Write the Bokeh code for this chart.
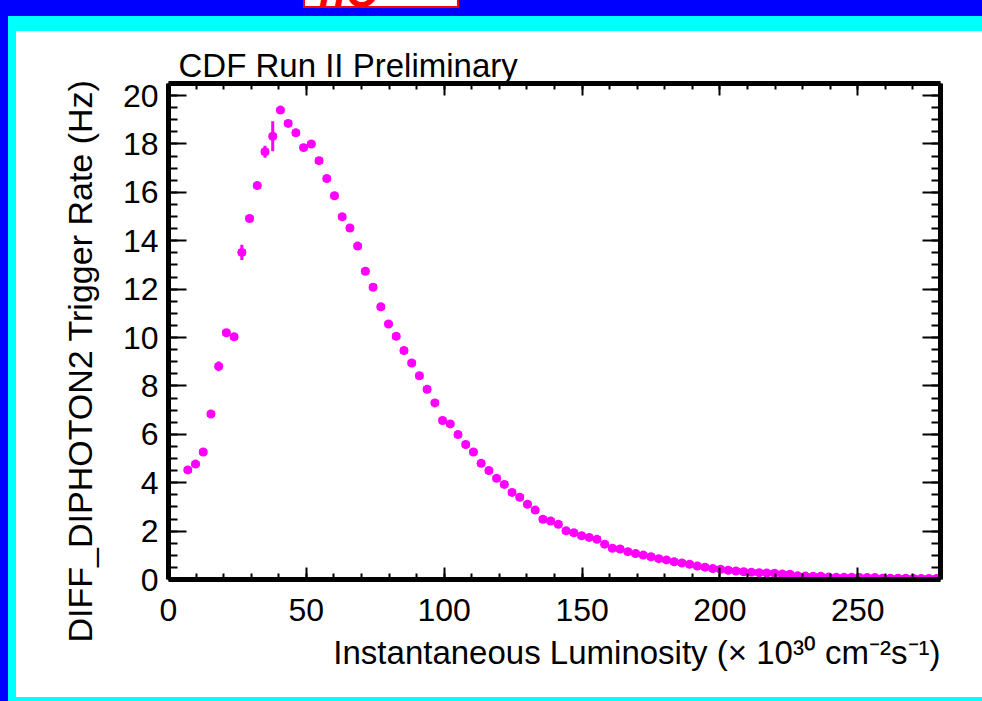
from bokeh.plotting import figure
from bokeh.models import (LinearAxis, SingleIntervalTicker, Range1d, Title, Div,
                          ColumnDataSource, CustomJSTickFormatter)
from bokeh.layouts import column, row
from bokeh.embed import file_html
from bokeh.resources import INLINE

# ---------------- data ----------------
bin_width = 2.8          # histogram bin width (x 10^30 cm^-2 s^-1)
first_bin_low = 5.6      # low edge of the first filled bin
rate = [4.53, 4.77, 5.27, 6.84, 8.81, 10.20, 10.03, 13.52, 14.92, 16.28,
        17.68, 18.32, 19.40, 18.85, 18.46, 17.85, 18.00, 17.31, 16.57, 15.86,
        14.99, 14.53, 13.78, 12.74, 12.08, 11.27, 10.56, 10.05, 9.46, 8.95,
        8.42, 7.86, 7.30, 6.57, 6.43, 5.99, 5.58, 5.27, 4.80, 4.50,
        4.18, 3.93, 3.60, 3.40, 3.11, 2.87, 2.49, 2.42, 2.28, 2.01,
        1.93, 1.81, 1.74, 1.66, 1.46, 1.29, 1.26, 1.15, 1.07, 1.01,
        0.94, 0.86, 0.81, 0.73, 0.68, 0.63, 0.56, 0.51, 0.45, 0.42,
        0.38, 0.35, 0.32, 0.30, 0.28, 0.27, 0.26, 0.23, 0.22, 0.15,
        0.14, 0.13, 0.13, 0.10, 0.09, 0.09, 0.09, 0.08, 0.08, 0.08,
        0.05, 0.05, 0.05, 0.05, 0.04, 0.04, 0.04, 0.04]
rate_err = [0.08, 0.08, 0.08, 0.10, 0.20, 0.10, 0.08, 0.32, 0.10, 0.10,
            0.25, 0.62, 0.10, 0.10, 0.10, 0.10, 0.10, 0.10, 0.10, 0.10,
            0.10, 0.10, 0.10, 0.10, 0.10, 0.10, 0.10, 0.10, 0.10, 0.10,
            0.10, 0.10, 0.10, 0.15, 0.10, 0.08, 0.08, 0.08, 0.08, 0.08,
            0.08, 0.08, 0.08, 0.08, 0.08, 0.08, 0.12, 0.08, 0.08, 0.08,
            0.06, 0.06, 0.06, 0.06, 0.06, 0.06, 0.06, 0.06, 0.06, 0.06,
            0.05, 0.05, 0.05, 0.05, 0.05, 0.05, 0.05, 0.05, 0.05, 0.05,
            0.04, 0.04, 0.04, 0.04, 0.04, 0.04, 0.04, 0.04, 0.04, 0.04,
            0.03, 0.03, 0.03, 0.03, 0.03, 0.03, 0.03, 0.03, 0.03, 0.03,
            0.02, 0.02, 0.02, 0.02, 0.02, 0.02, 0.02, 0.02]
x_range_max = 280
y_range_max = 20.5
x_tick_step = 50
y_tick_step = 2

title_text = "CDF Run II Preliminary"
x_title = "Instantaneous Luminosity (\u00d7 10\u00b3\u2070 cm\u207b\u00b2s\u207b\u00b9)"
y_title = "DIFF_DIPHOTON2 Trigger Rate (Hz)"
banner_text = "nC"

lumi = [first_bin_low + bin_width * (k + 0.5) for k in range(len(rate))]
src = ColumnDataSource(dict(
    x=lumi, y=rate,
    lo=[r - e for r, e in zip(rate, rate_err)],
    hi=[r + e for r, e in zip(rate, rate_err)],
))

# ---------------- layout ----------------
PAGE_W, PAGE_H = 982, 701
LEFT_BAND, TOP_BAND, BOTTOM_BAND = 16, 31, 4
W = PAGE_W - LEFT_BAND
H = PAGE_H - TOP_BAND - BOTTOM_BAND
BL, BR, BT, BB = 152, 42, 52, 118

FONT = "Liberation Sans"
MAG = "#ff00ff"
BLUE = "#0000ff"
CYAN = "#00ffff"

fig = figure(width=W, height=H, x_range=Range1d(0, x_range_max),
             y_range=Range1d(0, y_range_max), output_backend="svg",
             toolbar_location=None, x_axis_location=None, y_axis_location=None,
             min_border_left=BL, min_border_right=BR, min_border_top=BT,
             min_border_bottom=BB, background_fill_color="white",
             border_fill_color="white", outline_line_color=None, margin=0)
fig.xgrid.visible = False
fig.ygrid.visible = False


def make_axis(step, nminor, tin, tmin, labels, standoff=10):
    ax = LinearAxis(ticker=SingleIntervalTicker(interval=step, num_minor_ticks=nminor))
    ax.axis_line_width = 5
    ax.axis_line_color = "black"
    ax.major_tick_in = tin
    ax.major_tick_out = 0
    ax.minor_tick_in = tmin
    ax.minor_tick_out = 0
    ax.major_tick_line_width = 2
    ax.minor_tick_line_width = 2
    ax.major_label_text_font = FONT
    ax.major_label_text_font_size = "32px"
    ax.major_label_text_color = "black"
    ax.major_label_standoff = standoff
    if not labels:
        ax.formatter = CustomJSTickFormatter(code="return ''")
        ax.major_label_standoff = 0
    return ax


fig.add_layout(make_axis(x_tick_step, 5, 12, 6, True, 19), "below")
fig.add_layout(make_axis(x_tick_step, 5, 12, 6, False), "above")
fig.add_layout(make_axis(y_tick_step, 4, 18, 9, True, 10), "left")
fig.add_layout(make_axis(y_tick_step, 4, 18, 9, False), "right")

# titles (outer panels)
fig.add_layout(Title(text=title_text, align="left", offset=10, standoff=0,
                     text_font=FONT, text_font_size="33px",
                     text_font_style="normal", text_color="black"), "above")
fig.add_layout(Title(text=x_title, align="right", offset=0, standoff=20,
                     vertical_align="top",
                     text_font=FONT, text_font_size="33px",
                     text_font_style="normal", text_color="black"), "below")
fig.add_layout(Title(text=y_title, align="right", offset=-4, standoff=42,
                     text_font=FONT, text_font_size="34px",
                     text_font_style="normal", text_color="black"), "left")

# data marks
fig.segment(x0="x", y0="lo", x1="x", y1="hi", source=src, line_color=MAG, line_width=3)
fig.rect(x="x", y="y", width=bin_width, height=6, height_units="screen", source=src,
         fill_color=MAG, line_color=None)
fig.scatter(x="x", y="y", size=9, marker="circle", source=src, fill_color=MAG,
            line_color=None)

# slide frame: blue / cyan bands and the red banner box
top_html = (
    '<div style="position:relative;width:%dpx;height:%dpx;background:%s;overflow:hidden;">'
    '<div style="position:absolute;left:8px;top:16px;width:%dpx;height:%dpx;background:%s;"></div>'
    '<div style="position:absolute;left:303px;top:-3px;width:156px;height:11px;'
    'background:#ffffff;border:2px solid #ff0000;overflow:hidden;">'
    '<span style="position:absolute;left:14px;bottom:-8px;font-family:\'Liberation Sans\';'
    'font-style:italic;font-weight:bold;font-size:44px;line-height:1;color:#ff0000;">%s</span>'
    '</div></div>' % (PAGE_W, TOP_BAND, BLUE, PAGE_W - 8, TOP_BAND - 16, CYAN, banner_text))
top_div = Div(text=top_html, width=PAGE_W, height=TOP_BAND, margin=0)
blue_left = Div(text="", width=8, height=H, margin=0,
                styles={"background-color": BLUE})
cyan_left = Div(text="", width=8, height=H, margin=0,
                styles={"background-color": CYAN})
blue_corner = Div(text="", width=8, height=BOTTOM_BAND, margin=0,
                  styles={"background-color": BLUE})
cyan_bottom = Div(text="", width=PAGE_W - 8, height=BOTTOM_BAND, margin=0,
                  styles={"background-color": CYAN})

p = column(top_div,
           row(blue_left, cyan_left, fig, spacing=0, margin=0),
           row(blue_corner, cyan_bottom, spacing=0, margin=0),
           spacing=0, margin=0)

open("out.html", "w").write(file_html(p, INLINE))
